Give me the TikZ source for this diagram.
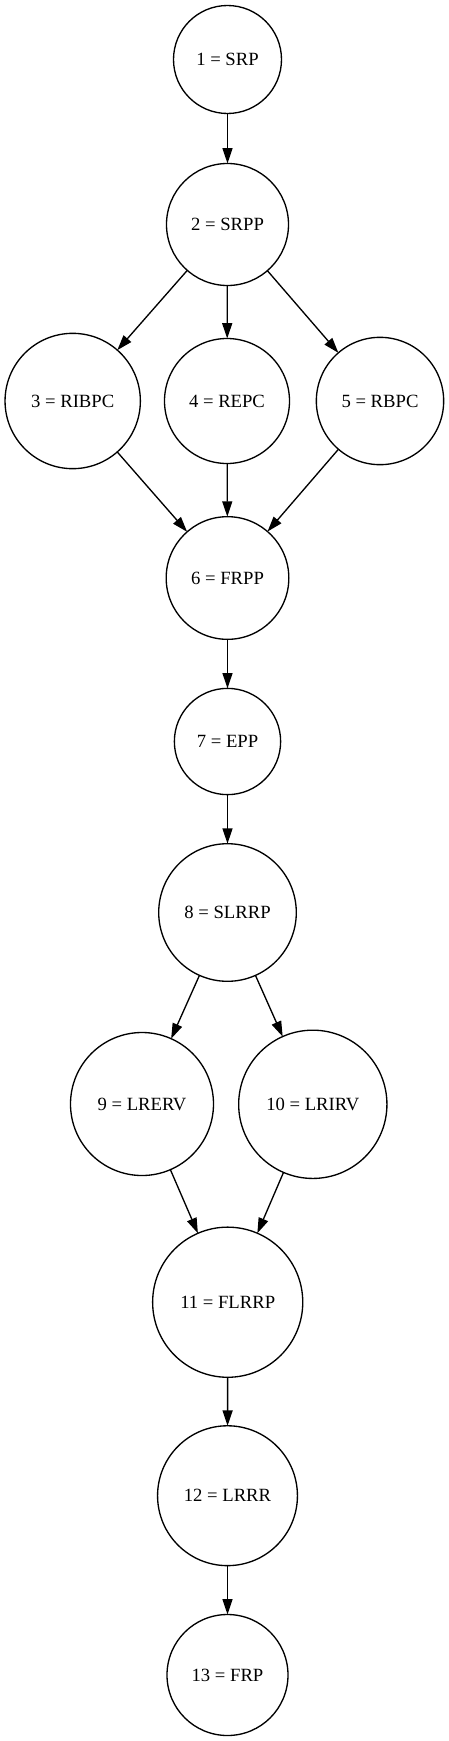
\documentclass[tikz,border=0pt]{standalone}
\usepackage{fontspec}
\setmainfont{Liberation Serif}
\usetikzlibrary{arrows.meta}
\begin{document}
\begin{tikzpicture}[x=0.75pt,y=-0.75pt,
  st/.style={circle, draw, line width=1pt, inner sep=0pt, outer sep=0pt, font=\fontsize{14}{16}\selectfont},
  edge/.style={line width=1pt, -{Triangle[length=11.5pt,width=7.5pt]}}]
\useasboundingbox (0,0) rectangle (449,1741);
\node[st, minimum size=81pt]    (n1)  at (227.5,59.5)   {1 = SRP};
\node[st, minimum size=91.5pt]  (n2)  at (227.5,224.5)  {2 = SRPP};
\node[st, minimum size=101.5pt] (n3)  at (72.7,401)     {3 = RIBPC};
\node[st, minimum size=93.75pt] (n4)  at (227,401)      {4 = REPC};
\node[st, minimum size=95.5pt]  (n5)  at (380,401)      {5 = RBPC};
\node[st, minimum size=92pt]    (n6)  at (227.5,578)    {6 = FRPP};
\node[st, minimum size=79.7pt]  (n7)  at (227.5,741.5)  {7 = EPP};
\node[st, minimum size=103.2pt] (n8)  at (227.5,912.5)  {8 = SLRRP};
\node[st, minimum size=107.25pt](n9)  at (142,1104)     {9 = LRERV};
\node[st, minimum size=111.2pt] (n10) at (312.8,1104.3) {10 = LRIRV};
\node[st, minimum size=112.6pt] (n11) at (227.7,1302.2) {11 = FLRRP};
\node[st, minimum size=104.9pt] (n12) at (227.5,1495.7) {12 = LRRR};
\node[st, minimum size=90.75pt] (n13) at (227.5,1675)   {13 = FRP};
\draw[edge] (n1) -- (n2);
\draw[edge] (n2) -- (n3);
\draw[edge] (n2) -- (n4);
\draw[edge] (n2) -- (n5);
\draw[edge] (n3) -- (n6);
\draw[edge] (n4) -- (n6);
\draw[edge] (n5) -- (n6);
\draw[edge] (n6) -- (n7);
\draw[edge] (n7) -- (n8);
\draw[edge] (n8) -- (n9);
\draw[edge] (n8) -- (n10);
\draw[edge] (n9) -- (n11);
\draw[edge] (n10) -- (n11);
\draw[edge] (n11) -- (n12);
\draw[edge] (n12) -- (n13);
\end{tikzpicture}
\end{document}
